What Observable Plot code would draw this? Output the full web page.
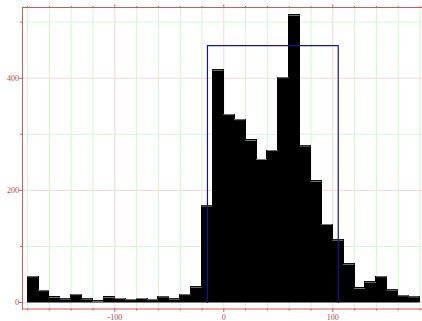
<!DOCTYPE html>
<html>
<head>
<meta charset="utf-8">
<script src="https://cdn.jsdelivr.net/npm/d3@7"></script>
<script src="https://cdn.jsdelivr.net/npm/@observablehq/plot@0.6"></script>
<style>
  html, body { margin: 0; padding: 0; background: #fff; }
  #chart { width: 422px; height: 321px; overflow: hidden; }
</style>
</head>
<body>
<div id="chart"></div>
<script>
// Histogram bins (left edges, width 10) and counts
const binLeft = [-180,-170,-160,-150,-140,-130,-120,-110,-100,-90,-80,-70,-60,-50,-40,-30,-20,-10,
                 0,10,20,30,40,50,60,70,80,90,100,110,120,130,140,150,160,170];
const binWidth = 10;
const counts = [46,21,9,6,14,6,2,9,7,5,7,5,10,6,14,27,172,414,
                335,326,289,255,271,401,512,279,216,139,111,68,25,36,46,22,12,10];

// Overlaid box (fit) : x range and height
const boxX = [-15, 105];
const boxHeight = 458;

// Axis ticks and labels
const xMinorTicks = [-180,-160,-140,-120,-80,-60,-40,-20,20,40,60,80,120,140,160,180];
const xMajorTicks = [-100, 0, 100];
const xMajorLabels = ["-100", "0", "100"];
const yMinorTicks = [100, 300, 500];
const yMajorTicks = [0, 200, 400];
const yMajorLabels = ["0", "200", "400"];

const bins = binLeft.map((x, i) => ({x1: x, x2: x + binWidth, y: counts[i]}));
const box = [
  {x: boxX[0], y: 0}, {x: boxX[0], y: boxHeight},
  {x: boxX[1], y: boxHeight}, {x: boxX[1], y: 0}
];
const histStart = binLeft[0];
const histEnd = binLeft[binLeft.length - 1] + binWidth;

const axisRed = "#d05a5a";
const labelRed = "#a84848";
const gridGreen = "#d6f3d6";
const gridPink = "#f3d6d6";
const xLab = new Map(xMajorTicks.map((t, i) => [t, xMajorLabels[i]]));
const yLab = new Map(yMajorTicks.map((t, i) => [t, yMajorLabels[i]]));

const chart = Plot.plot({
  width: 422,
  height: 321,
  marginLeft: 22,
  marginRight: 0,
  marginTop: 7,
  marginBottom: 12.5,
  x: {domain: [-184.7, 182.3], label: null},
  y: {domain: [-11.6, 526.1], label: null},
  style: {background: "white", fontFamily: "Liberation Serif", fontSize: "8px"},
  marks: [
    // grid
    Plot.ruleX(xMinorTicks, {stroke: gridGreen, strokeWidth: 1}),
    Plot.ruleX(xMajorTicks, {stroke: gridPink, strokeWidth: 1}),
    Plot.ruleY(yMinorTicks, {stroke: gridGreen, strokeWidth: 1}),
    Plot.ruleY(yMajorTicks, {stroke: gridPink, strokeWidth: 1}),
    // histogram
    Plot.rectY(bins, {x1: "x1", x2: "x2", y: "y", fill: "black", stroke: "black", strokeWidth: 1,
                      shapeRendering: "crispEdges"}),
    Plot.ruleY(bins, {x1: "x1", x2: "x2", y: "y", stroke: "#7a7a7a", strokeWidth: 1}),
    Plot.ruleY([0], {x1: histStart, x2: histEnd, stroke: "#7a7a7a", strokeWidth: 1}),
    // box
    Plot.line(box, {x: "x", y: "y", stroke: "#14149a", strokeWidth: 1.2}),
    // frame lines
    Plot.frame({anchor: "left", stroke: axisRed}),
    Plot.frame({anchor: "top", stroke: axisRed}),
    Plot.frame({anchor: "bottom", stroke: axisRed}),
    // bottom axis
    Plot.axisX({anchor: "bottom", label: null, ticks: xMinorTicks, tickSize: 2, tickFormat: () => "", stroke: axisRed}),
    Plot.axisX({anchor: "bottom", label: null, ticks: xMajorTicks, tickSize: 3.5, tickPadding: 1.5,
                tickFormat: d => xLab.get(d), stroke: axisRed, fill: labelRed}),
    // top axis
    Plot.axisX({anchor: "top", label: null, ticks: xMinorTicks, tickSize: 2, tickFormat: () => "", stroke: axisRed}),
    Plot.axisX({anchor: "top", label: null, ticks: xMajorTicks, tickSize: 3.5, tickFormat: () => "", stroke: axisRed}),
    // left axis
    Plot.axisY({anchor: "left", label: null, ticks: yMinorTicks, tickSize: 2, tickFormat: () => "", stroke: axisRed}),
    Plot.axisY({anchor: "left", label: null, ticks: yMajorTicks, tickSize: 3, tickPadding: 0.5,
                tickFormat: d => yLab.get(d), stroke: axisRed, fill: labelRed})
  ]
});
document.getElementById("chart").appendChild(chart);
</script>
</body>
</html>
